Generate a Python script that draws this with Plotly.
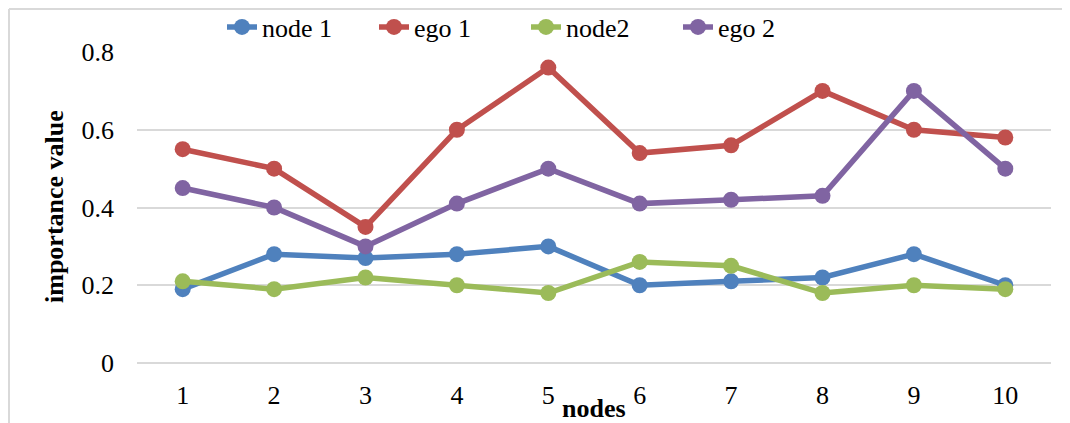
import plotly.graph_objects as go

categories = ["1", "2", "3", "4", "5", "6", "7", "8", "9", "10"]
node1 = [0.19, 0.28, 0.27, 0.28, 0.30, 0.20, 0.21, 0.22, 0.28, 0.20]
ego1 = [0.55, 0.50, 0.35, 0.60, 0.76, 0.54, 0.56, 0.70, 0.60, 0.58]
node2 = [0.21, 0.19, 0.22, 0.20, 0.18, 0.26, 0.25, 0.18, 0.20, 0.19]
ego2 = [0.45, 0.40, 0.30, 0.41, 0.50, 0.41, 0.42, 0.43, 0.70, 0.50]
y_ticks = [0, 0.2, 0.4, 0.6, 0.8]
y_ticktext = ["0", "0.2", "0.4", "0.6", "0.8"]

series = [
    ("node 1", node1, "#4F81BD"),
    ("ego 1", ego1, "#C0504D"),
    ("node2", node2, "#9BBB59"),
    ("ego 2", ego2, "#8064A2"),
]

# The page body adds an 8px offset, so the figure is sized/positioned to compensate.
OFF = 8
W, H = 1070 - OFF, 423 - OFF
L, R, T, B = 137 - OFF, 19, 52 - OFF, 60
pw, ph = W - L - R, H - T - B

def px_x(p):
    return (p - OFF - L) / pw

def px_y(p):
    return (H - B - (p - OFF)) / ph

FONT = "Liberation Serif, Times New Roman, serif"

fig = go.Figure()
for name, vals, color in series:
    fig.add_trace(go.Scatter(
        x=categories, y=vals, name=name, mode="lines+markers",
        line=dict(color=color, width=5.5),
        marker=dict(color=color, size=16),
    ))

fig.update_layout(
    width=W, height=H,
    margin=dict(l=L, r=R, t=T, b=B, autoexpand=False),
    paper_bgcolor="white", plot_bgcolor="white",
    font=dict(family=FONT, size=26, color="#000000"),
    showlegend=True,
    legend=dict(
        orientation="h", xref="container", yref="container",
        x=(222 - OFF) / W, xanchor="left", y=1 - (27 - OFF) / H, yanchor="middle",
        font=dict(family=FONT, size=26, color="#000000"),
        entrywidth=107, entrywidthmode="pixels",
        bgcolor="rgba(0,0,0,0)",
    ),
    xaxis=dict(
        type="category", range=[-0.5, 9.5], automargin=False,
        showgrid=False, showline=False, zeroline=False,
        tickfont=dict(family=FONT, size=26, color="#000000"),
        ticklabelstandoff=14,
    ),
    yaxis=dict(
        range=[0, 0.8], tickvals=y_ticks, ticktext=y_ticktext, automargin=False,
        showgrid=True, gridcolor="#D9D9D9", gridwidth=1.5,
        zeroline=True, zerolinecolor="#D9D9D9", zerolinewidth=1.5,
        showline=False,
        tickfont=dict(family=FONT, size=26, color="#000000"),
        ticklabelstandoff=22,
    ),
    annotations=[
        dict(text="<b>nodes</b>", xref="paper", yref="paper",
             x=0.5, y=px_y(408), xanchor="center", yanchor="middle",
             showarrow=False, font=dict(family=FONT, size=26, color="#000000")),
        dict(text="<b>importance value</b>", xref="paper", yref="paper",
             x=px_x(54), y=px_y(207), xanchor="center", yanchor="middle",
             textangle=-90, showarrow=False,
             font=dict(family=FONT, size=26, color="#000000")),
    ],
    shapes=[
        dict(type="line", xref="paper", yref="paper",
             x0=px_x(9), x1=px_x(9), y0=px_y(9), y1=px_y(423),
             line=dict(color="#D9D9D9", width=2)),
        dict(type="line", xref="paper", yref="paper",
             x0=px_x(9), x1=px_x(1070), y0=px_y(9), y1=px_y(9),
             line=dict(color="#D9D9D9", width=2)),
    ],
)

fig.write_html("out.html")
